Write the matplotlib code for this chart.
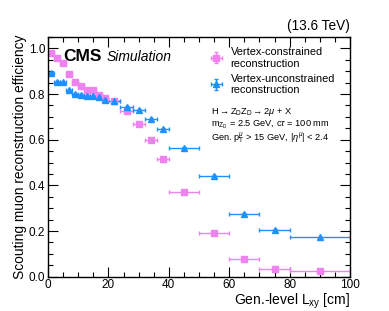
import matplotlib
matplotlib.use("Agg")
import matplotlib.pyplot as plt
from matplotlib.ticker import MultipleLocator
import numpy as np

plt.rcParams['font.family'] = ['Liberation Sans', 'DejaVu Sans']
plt.rcParams['mathtext.fontset'] = 'custom'
plt.rcParams['mathtext.rm'] = 'Liberation Sans'
plt.rcParams['mathtext.it'] = 'Liberation Sans:italic'

bin_lo = [0, 2, 4, 6, 8, 10, 12, 14, 16, 18, 20, 24, 28, 32, 36, 40, 50, 60, 70, 80]
bin_hi = [2, 4, 6, 8, 10, 12, 14, 16, 18, 20, 24, 28, 32, 36, 40, 50, 60, 70, 80, 100]
eff_constrained = [0.978, 0.956, 0.938, 0.886, 0.852, 0.835, 0.817, 0.817, 0.794, 0.781,
                   0.769, 0.727, 0.668, 0.598, 0.515, 0.369, 0.190, 0.077, 0.035, 0.023]
eff_unconstrained = [0.893, 0.853, 0.851, 0.816, 0.800, 0.797, 0.792, 0.792, 0.788, 0.773,
                     0.770, 0.744, 0.730, 0.689, 0.649, 0.563, 0.441, 0.274, 0.204, 0.172]
labels = ["Vertex-constrained\nreconstruction", "Vertex-unconstrained\nreconstruction"]

lo = np.array(bin_lo, float)
hi = np.array(bin_hi, float)
xc = (lo + hi) / 2
xe = (hi - lo) / 2

fig = plt.figure(figsize=(3.89, 3.11), dpi=100)
ax = fig.add_axes([48/389, 1 - 276.7/311, (350-48)/389, (276.7-37)/311])

pink = '#ee82ee'
blue = '#1e90ff'
ax.errorbar(xc, eff_constrained, xerr=xe, yerr=0.004, fmt='s', color=pink, ms=4.5,
            elinewidth=1.0, capsize=1.5, label=labels[0])
ax.errorbar(xc, eff_unconstrained, xerr=xe, yerr=0.004, fmt='^', color=blue, ms=4.5,
            elinewidth=1.0, capsize=1.5, label=labels[1])

ax.set_xlim(0, 100)
ax.set_ylim(0, 1.05)
ax.xaxis.set_major_locator(MultipleLocator(20))
ax.xaxis.set_minor_locator(MultipleLocator(5))
ax.yaxis.set_major_locator(MultipleLocator(0.2))
ax.yaxis.set_minor_locator(MultipleLocator(0.05))
ax.tick_params(which='both', direction='in', top=True, right=True, labelsize=8.5, width=0.8)
ax.tick_params(which='major', length=7)
ax.tick_params(which='minor', length=3.5)
ax.tick_params(axis='x', pad=2)
ax.tick_params(axis='y', pad=2)
ax.set_yticks([0, 0.2, 0.4, 0.6, 0.8, 1.0])
ax.set_yticklabels(['0.0', '0.2', '0.4', '0.6', '0.8', '1.0'])
for s in ax.spines.values():
    s.set_linewidth(1.0)

ax.set_xlabel(r'Gen.-level L$_{\mathrm{xy}}$ [cm]', fontsize=10, loc='right', labelpad=0)
ax.set_ylabel('Scouting muon reconstruction efficiency', fontsize=9.9, labelpad=1.5)

leg = ax.legend(loc='upper left', bbox_to_anchor=(0.51, 0.995), frameon=False, fontsize=7.9,
                handlelength=1.0, handletextpad=0.8, labelspacing=0.45, borderpad=0.3)

ax.text(0.05, 0.92, 'CMS', transform=ax.transAxes, fontsize=12.5, fontweight='bold', va='center')
ax.text(0.194, 0.915, 'Simulation', transform=ax.transAxes, fontsize=10, style='italic', va='center')
ax.text(1.0, 1.015, '(13.6 TeV)', transform=ax.transAxes, fontsize=9.8, ha='right', va='bottom')

tx = (211 - 48) / 302
ax.text(tx, (276.7-111.7)/239.7, r'H$\rightarrow$Z$_{\mathrm{D}}$Z$_{\mathrm{D}}$$\rightarrow$2$\mu$ + X',
        transform=ax.transAxes, fontsize=6.7, va='center')
ax.text(tx, (276.7-125)/239.7, r'm$_{\mathrm{Z_D}}$ = 2.5 GeV, c$\tau$ = 100 mm',
        transform=ax.transAxes, fontsize=6.7, va='center')
ax.text(tx, (276.7-138)/239.7, r'Gen. p$_{\mathrm{T}}^{\mu}$ > 15 GeV, |$\eta^{\mu}$| < 2.4',
        transform=ax.transAxes, fontsize=6.7, va='center')

fig.savefig('out.png', dpi=100)
